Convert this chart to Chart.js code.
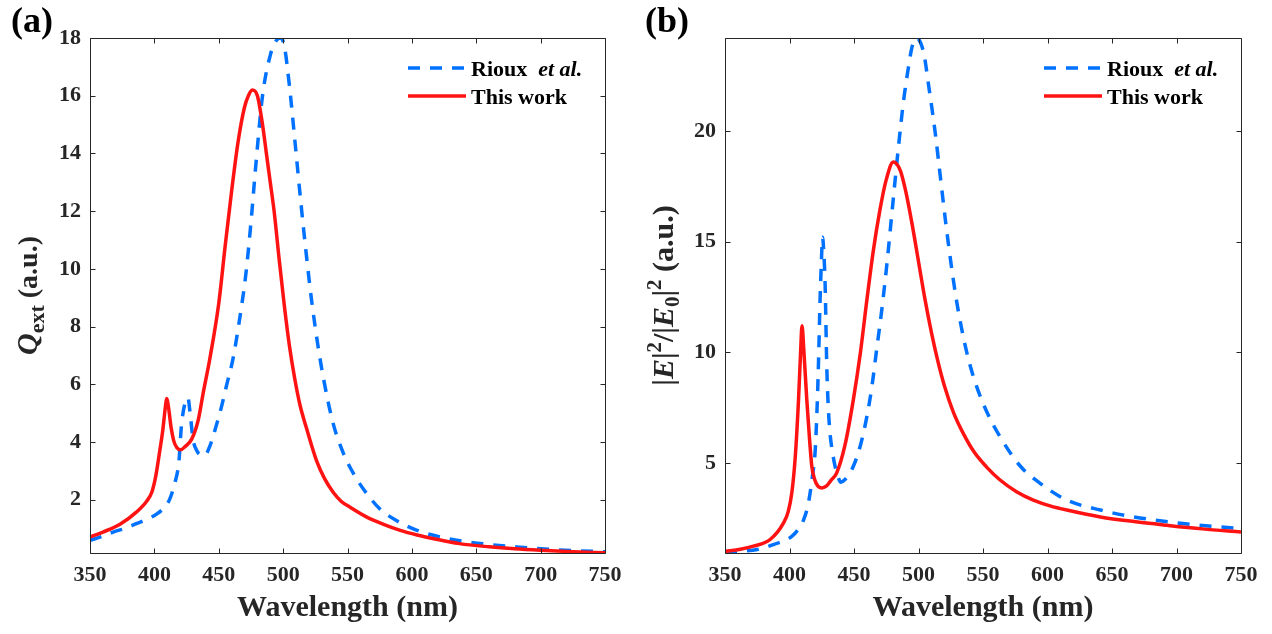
<!DOCTYPE html>
<html>
<head>
<meta charset="utf-8">
<title>Extinction and near-field spectra</title>
<script src="https://cdn.jsdelivr.net/npm/chart.js@4.4.1/dist/chart.umd.min.js"></script>
<style>
  html, body { margin: 0; padding: 0; background: #fff; }
  #wrap { position: relative; width: 1272px; height: 634px; }
  #wrap canvas { position: absolute; top: 0; }
  #chartA { left: 0; }
  #chartB { left: 636px; }
</style>
</head>
<body>
<div id="wrap">
  <canvas id="chartA" width="636" height="634"></canvas>
  <canvas id="chartB" width="636" height="634"></canvas>
</div>
<script>
// Tick positions
const wavelengthTicks = [350, 400, 450, 500, 550, 600, 650, 700, 750];
const qextTicks = [2, 4, 6, 8, 10, 12, 14, 16, 18];
const fieldTicks = [5, 10, 15, 20];

// (a) extinction efficiency Q_ext
const riouxQextNm = [350, 360, 368, 378, 386, 394, 402, 408, 412, 416, 419, 421, 423.5, 426, 428, 430, 433, 436, 439, 443, 448, 452, 456, 461, 466, 471, 475, 479, 484, 490, 494.5, 498, 501, 505, 509, 514, 518, 522, 527, 532, 539, 547, 555, 565, 575, 588, 604, 624, 640, 660, 680, 700, 725, 750];
const riouxQext = [0.59, 0.74, 0.88, 1.02, 1.17, 1.32, 1.51, 1.75, 2.03, 2.6, 3.3, 4.56, 5.3, 5.54, 4.9, 4.1, 3.7, 3.55, 3.53, 3.85, 4.56, 5.2, 5.95, 6.87, 8.2, 9.8, 11.6, 13.7, 16.0, 17.4, 17.9, 18.0, 17.7, 16.3, 14.5, 12.2, 10.5, 8.95, 7.35, 6.05, 4.62, 3.59, 2.88, 2.21, 1.69, 1.28, 0.94, 0.69, 0.56, 0.45, 0.37, 0.3, 0.24, 0.2];
const workQextNm = [350, 360, 373, 386, 394, 398, 401, 404, 406.5, 408.5, 409.5, 411, 413, 415, 417.5, 420.4, 424, 429, 434, 438, 443, 450, 455, 460, 465, 470, 473, 476, 480, 484, 487, 490, 493, 497, 501, 505, 509, 513, 518, 522, 526, 532, 539, 545, 552, 565, 578, 591, 604, 617, 637, 660, 680, 700, 725, 750];
const workQext = [0.71, 0.88, 1.14, 1.57, 1.95, 2.26, 2.8, 3.64, 4.4, 5.2, 5.51, 5.2, 4.5, 4.05, 3.8, 3.73, 3.85, 4.1, 4.75, 5.72, 6.87, 8.8, 10.8, 12.7, 14.4, 15.6, 16.0, 16.2, 16.0, 15.0, 14.0, 13.0, 12.0, 10.3, 8.7, 7.3, 6.2, 5.3, 4.5, 3.9, 3.35, 2.75, 2.25, 1.95, 1.74, 1.4, 1.15, 0.94, 0.78, 0.65, 0.48, 0.37, 0.3, 0.25, 0.2, 0.16];

// (b) near-field enhancement |E|^2/|E0|^2
const riouxFieldNm = [350, 362, 375, 388, 402, 408, 411, 414, 416, 418, 419.8, 421.2, 422.4, 423.7, 424.8, 425.6, 426.5, 427.6, 428.9, 430, 431.4, 433.3, 435.3, 437.5, 439.7, 443, 449.5, 455, 460, 464, 467.5, 471.5, 475.3, 480.4, 484.5, 488.5, 492, 495, 498.3, 501.5, 504.5, 507.5, 513, 517, 521, 525, 529, 533, 537, 541, 546, 553, 563, 579, 594, 615, 641, 667, 705, 750];
const riouxField = [0.94, 1.0, 1.09, 1.32, 1.69, 2.1, 2.44, 3.0, 3.65, 4.5, 5.45, 7.2, 9.36, 12.37, 14.2, 15.2, 14.6, 13.1, 9.36, 7.6, 6.35, 5.5, 4.85, 4.4, 4.13, 4.25, 4.85, 5.8, 7.1, 8.5, 10.1, 11.9, 13.87, 16.9, 19.3, 21.4, 22.8, 23.8, 24.2, 24.0, 23.4, 22.2, 19.9, 17.9, 15.9, 14.1, 12.5, 11.2, 10.1, 9.2, 8.3, 7.3, 6.2, 4.85, 4.09, 3.32, 2.87, 2.56, 2.26, 2.03];
const workFieldNm = [350, 362, 372, 385, 395.4, 399, 401.8, 404.5, 407, 408.6, 409.7, 411, 413.4, 415.5, 417.3, 419.5, 422, 425, 428.5, 432, 436.6, 443, 449.5, 455, 460, 465, 470, 475, 480.5, 486, 490, 495, 500, 505, 510, 515, 520, 527, 535, 543, 553, 563, 576, 589, 602, 615, 641, 667, 693, 720, 750];
const workField = [1.0, 1.1, 1.24, 1.54, 2.29, 2.8, 3.65, 5.3, 7.86, 10.0, 11.2, 10.2, 7.86, 6.1, 4.85, 4.25, 3.95, 3.87, 3.95, 4.2, 4.55, 5.8, 7.86, 10.0, 12.37, 14.6, 16.4, 17.8, 18.6, 18.2, 17.3, 15.8, 14.1, 12.4, 10.9, 9.6, 8.5, 7.3, 6.3, 5.5, 4.8, 4.24, 3.7, 3.32, 3.06, 2.87, 2.56, 2.35, 2.18, 2.02, 1.88];

const BLUE = 'rgb(0,114,255)';
const RED = 'rgb(255,18,18)';
const AXIS = '#262626';
const SERIF = '"Liberation Serif", "Times New Roman", serif';
const TICK_LEN = 5;

// legend entries, "et al." set in italics
const legendLabels = [
  [{ text: 'Rioux  ', size: 22 }, { text: 'et al.', size: 22, italic: true }],
  [{ text: 'This work', size: 22 }]
];

function fontOf(p) {
  return (p.italic ? 'italic ' : '') + 'bold ' + p.size + 'px ' + SERIF;
}

function richWidth(ctx, parts) {
  let w = 0;
  parts.forEach(p => { ctx.font = fontOf(p); w += ctx.measureText(p.text).width; });
  return w;
}

function drawRich(ctx, parts, x, y) {
  parts.forEach(p => {
    ctx.font = fontOf(p);
    ctx.fillText(p.text, x, y + (p.dy || 0));
    x += ctx.measureText(p.text).width;
  });
}

function toPoints(xs, ys) {
  return xs.map((x, i) => ({ x: x, y: ys[i] }));
}

// box around the plot with inward ticks on all four sides
const frame = {
  id: 'frame',
  afterDatasetsDraw(chart) {
    const { ctx, chartArea: a, scales } = chart;
    const l = Math.round(a.left) + 0.5, r = Math.round(a.right) + 0.5;
    const t = Math.round(a.top) + 0.5, b = Math.round(a.bottom) + 0.5;
    ctx.save();
    ctx.strokeStyle = AXIS;
    ctx.lineWidth = 1;
    ctx.beginPath();
    ctx.rect(l, t, r - l, b - t);
    scales.x.ticks.forEach(tk => {
      const px = Math.round(scales.x.getPixelForValue(tk.value)) + 0.5;
      ctx.moveTo(px, b); ctx.lineTo(px, b - TICK_LEN);
      ctx.moveTo(px, t); ctx.lineTo(px, t + TICK_LEN);
    });
    scales.y.ticks.forEach(tk => {
      const py = Math.round(scales.y.getPixelForValue(tk.value)) + 0.5;
      ctx.moveTo(l, py); ctx.lineTo(l + TICK_LEN, py);
      ctx.moveTo(r, py); ctx.lineTo(r - TICK_LEN, py);
    });
    ctx.stroke();
    ctx.restore();
  }
};

// panel tag, axis titles and legend
const panelText = {
  id: 'panelText',
  afterDraw(chart, args, opts) {
    const { ctx, chartArea: a } = chart;
    ctx.save();
    ctx.fillStyle = '#000';
    ctx.textBaseline = 'alphabetic';

    ctx.font = 'bold 36px ' + SERIF;
    ctx.fillText(opts.tag, opts.tagX, 32);

    ctx.fillStyle = AXIS;
    const xTitle = [{ text: 'Wavelength (nm)', size: 30 }];
    drawRich(ctx, xTitle, (a.left + a.right) / 2 - richWidth(ctx, xTitle) / 2, 616);

    ctx.save();
    ctx.translate(37, (a.top + a.bottom) / 2);
    ctx.rotate(-Math.PI / 2);
    drawRich(ctx, opts.yTitle, -richWidth(ctx, opts.yTitle) / 2, 0);
    ctx.restore();

    chart.data.datasets.forEach((ds, i) => {
      const rowY = a.top + 30 + i * 28;
      const x0 = a.right - 197;
      ctx.save();
      ctx.strokeStyle = ds.borderColor;
      ctx.lineWidth = ds.borderWidth;
      ctx.setLineDash(ds.borderDash || []);
      ctx.beginPath();
      ctx.moveTo(x0, rowY);
      ctx.lineTo(x0 + 58, rowY);
      ctx.stroke();
      ctx.restore();
      ctx.fillStyle = '#000';
      drawRich(ctx, legendLabels[i], x0 + 63, rowY + 8);
    });
    ctx.restore();
  }
};

function makePanel(id, riouxX, riouxY, workX, workY, yMin, yMax, yTicks, axisWidth, text) {
  const tickFont = { family: SERIF, size: 22, weight: 'bold' };
  return new Chart(document.getElementById(id), {
    type: 'line',
    data: {
      datasets: [
        {
          label: 'Rioux et al.',
          data: toPoints(riouxX, riouxY),
          borderColor: BLUE,
          borderWidth: 3.5,
          borderDash: [12, 10],
          pointRadius: 0,
          cubicInterpolationMode: 'monotone',
          fill: false,
          order: 1
        },
        {
          label: 'This work',
          data: toPoints(workX, workY),
          borderColor: RED,
          borderWidth: 3.5,
          pointRadius: 0,
          cubicInterpolationMode: 'monotone',
          fill: false,
          order: 0
        }
      ]
    },
    options: {
      responsive: false,
      animation: false,
      devicePixelRatio: 1,
      layout: { padding: { top: 38, right: 31, left: 0, bottom: 0 } },
      plugins: {
        legend: { display: false },
        tooltip: { enabled: false },
        panelText: text
      },
      scales: {
        x: {
          type: 'linear',
          min: 350,
          max: 750,
          grid: { display: false, drawTicks: false },
          border: { display: false },
          afterBuildTicks: scale => { scale.ticks = wavelengthTicks.map(v => ({ value: v })); },
          afterFit: scale => { scale.height = 81; },
          ticks: { font: tickFont, color: AXIS, padding: 9, autoSkip: false, maxRotation: 0 }
        },
        y: {
          type: 'linear',
          min: yMin,
          max: yMax,
          grid: { display: false, drawTicks: false },
          border: { display: false },
          afterBuildTicks: scale => { scale.ticks = yTicks.map(v => ({ value: v })); },
          afterFit: scale => { scale.width = axisWidth; },
          ticks: { font: tickFont, color: AXIS, padding: 9, autoSkip: false }
        }
      }
    },
    plugins: [frame, panelText]
  });
}

makePanel('chartA', riouxQextNm, riouxQext, workQextNm, workQext, 0.155, 18, qextTicks, 90, {
  tag: '(a)',
  tagX: 11,
  yTitle: [
    { text: 'Q', size: 30, italic: true },
    { text: 'ext', size: 22, dy: 7 },
    { text: ' (a.u.)', size: 28 }
  ]
});

makePanel('chartB', riouxFieldNm, riouxField, workFieldNm, workField, 0.93, 24.2, fieldTicks, 89, {
  tag: '(b)',
  tagX: 9,
  yTitle: [
    { text: '|', size: 30 },
    { text: 'E', size: 30, italic: true },
    { text: '|', size: 30 },
    { text: '2', size: 21, dy: -12 },
    { text: '/|', size: 30 },
    { text: 'E', size: 30, italic: true },
    { text: '0', size: 21, dy: 6 },
    { text: '|', size: 30 },
    { text: '2', size: 21, dy: -12 },
    { text: ' (a.u.)', size: 30 }
  ]
});
</script>
</body>
</html>
